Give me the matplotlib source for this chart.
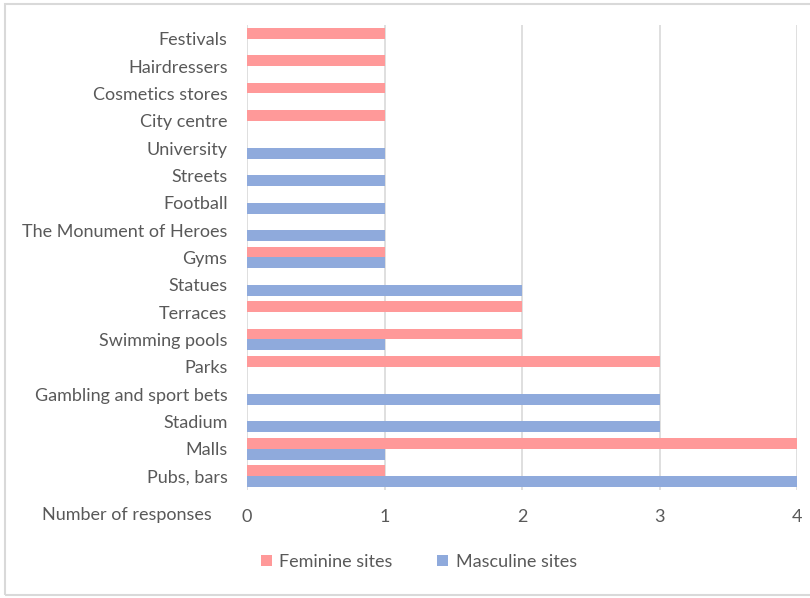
import numpy as np
import matplotlib.pyplot as plt
from matplotlib.patches import Rectangle

# Sites listed bottom to top, as drawn on the y axis
sites = ['Pubs, bars', 'Malls', 'Stadium', 'Gambling and sport bets', 'Parks',
         'Swimming pools', 'Terraces', 'Statues', 'Gyms',
         'The Monument of Heroes', 'Football', 'Streets', 'University',
         'City centre', 'Cosmetics stores', 'Hairdressers', 'Festivals']
feminine = [1, 4, 0, 0, 3, 2, 2, 0, 1, 0, 0, 0, 0, 1, 1, 1, 1]
masculine = [4, 1, 3, 3, 0, 1, 0, 2, 1, 1, 1, 1, 1, 0, 0, 0, 0]
x_ticks = [0, 1, 2, 3, 4]

plt.rcParams['font.family'] = ['Lato', 'DejaVu Sans']
text_color = '#595959'
grid_color = '#D9D9D9'
fs = 13

fig = plt.figure(figsize=(8.1, 5.98), dpi=100)
ax = fig.add_axes([0.305, 0.181, 0.679, 0.777])

y = np.arange(len(sites))
h = 0.4
ax.barh(y + h / 2, feminine, height=h, color='#FF9999', label='Feminine sites', zorder=3)
ax.barh(y - h / 2, masculine, height=h, color='#8FAADC', label='Masculine sites', zorder=3)

ax.set_xlim(0, 4)
ax.set_ylim(-0.5, 16.5)
ax.set_xticks(x_ticks)
ax.set_yticks(y)
ax.set_yticklabels(sites)
ax.tick_params(axis='both', length=0, labelsize=fs, colors=text_color)
ax.tick_params(axis='x', pad=14)
ax.tick_params(axis='y', pad=14)
ax.grid(axis='x', color=grid_color, linewidth=1.2, zorder=0)
for s in ax.spines.values():
    s.set_visible(False)

fig.text(42 / 810, 1 - 515 / 598, 'Number of responses', fontsize=fs,
         color=text_color, ha='left', va='center')

fig.legend(loc='center', bbox_to_anchor=(0.517, 1 - 562 / 598), ncol=2,
           frameon=False, fontsize=fs, labelcolor=text_color,
           handlelength=0.6, handleheight=0.6, handletextpad=0.4,
           columnspacing=2.5)

# light border round the whole chart
fig.patches.append(Rectangle((5 / 810, 0.005), 1.2, 1 - 4 / 598 - 0.005,
                             transform=fig.transFigure, fill=False,
                             edgecolor=grid_color, linewidth=1.5))

fig.savefig('out.png', dpi=100)
